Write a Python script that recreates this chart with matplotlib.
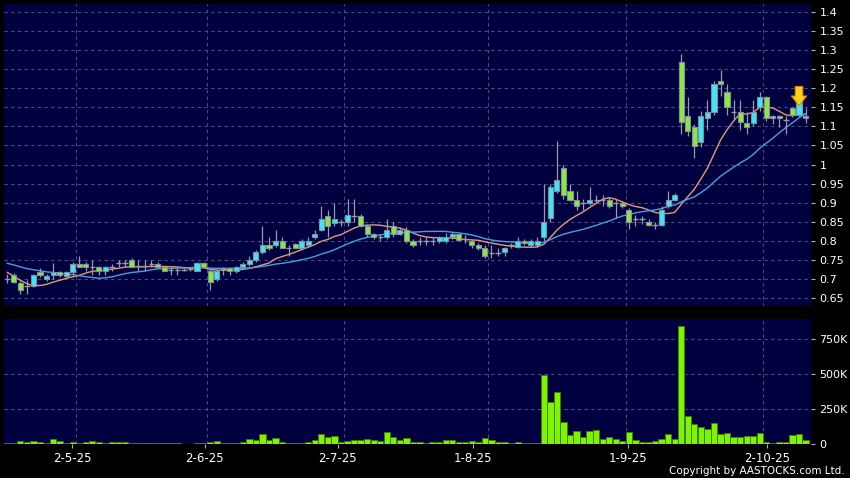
import numpy as np
import pandas as pd
import matplotlib
matplotlib.use('Agg')
import matplotlib.pyplot as plt

# daily candles (oldest first); cyan = up, green = down
opens = [0.70, 0.709, 0.690, 0.682, 0.682, 0.719, 0.699, 0.709, 0.718, 0.708,
         0.718, 0.74, 0.74, 0.73, 0.73, 0.721, 0.73, 0.741, 0.741, 0.75,
         0.733, 0.733, 0.738, 0.739, 0.730, 0.724, 0.724, 0.724, 0.727, 0.72,
         0.741, 0.72, 0.70, 0.727, 0.728, 0.72, 0.73, 0.74, 0.75, 0.77,
         0.79, 0.79, 0.80, 0.781, 0.791, 0.781, 0.79, 0.81, 0.829, 0.866,
         0.847, 0.848, 0.848, 0.866, 0.866, 0.838, 0.818, 0.809, 0.809, 0.838,
         0.819, 0.828, 0.80, 0.80, 0.80, 0.80, 0.80, 0.80, 0.809, 0.817,
         0.806, 0.80, 0.79, 0.78, 0.768, 0.768, 0.77, 0.789, 0.783, 0.80,
         0.79, 0.79, 0.809, 0.859, 0.93, 0.99, 0.93, 0.908, 0.898, 0.90,
         0.908, 0.908, 0.908, 0.90, 0.90, 0.88, 0.858, 0.858, 0.85, 0.841,
         0.841, 0.89, 0.908, 1.269, 1.127, 1.099, 1.06, 1.121, 1.138, 1.22,
         1.189, 1.138, 1.138, 1.109, 1.109, 1.151, 1.178, 1.121, 1.127, 1.116,
         1.149, 1.13, 1.121]
highs = [0.712, 0.715, 0.695, 0.697, 0.712, 0.728, 0.712, 0.741, 0.72, 0.72,
         0.745, 0.76, 0.745, 0.75, 0.735, 0.735, 0.74, 0.75, 0.75, 0.755,
         0.75, 0.75, 0.75, 0.745, 0.735, 0.73, 0.73, 0.728, 0.73, 0.745,
         0.745, 0.725, 0.725, 0.73, 0.73, 0.735, 0.745, 0.76, 0.775, 0.84,
         0.81, 0.828, 0.81, 0.79, 0.795, 0.805, 0.81, 0.828, 0.89, 0.88,
         0.90, 0.857, 0.91, 0.91, 0.87, 0.845, 0.82, 0.818, 0.856, 0.848,
         0.835, 0.835, 0.805, 0.81, 0.81, 0.81, 0.812, 0.82, 0.822, 0.82,
         0.815, 0.805, 0.795, 0.79, 0.79, 0.78, 0.785, 0.795, 0.81, 0.805,
         0.805, 0.81, 0.95, 0.95, 1.062, 1.0, 0.95, 0.93, 0.91, 0.94,
         0.92, 0.92, 0.915, 0.91, 0.905, 0.885, 0.868, 0.865, 0.858, 0.85,
         0.89, 0.93, 0.925, 1.29, 1.178, 1.105, 1.14, 1.169, 1.22, 1.249,
         1.21, 1.169, 1.169, 1.138, 1.169, 1.191, 1.18, 1.13, 1.13, 1.127,
         1.152, 1.17, 1.149]
lows = [0.690, 0.69, 0.66, 0.66, 0.68, 0.705, 0.695, 0.70, 0.705, 0.705,
        0.71, 0.73, 0.72, 0.71, 0.71, 0.71, 0.72, 0.73, 0.73, 0.73,
        0.72, 0.72, 0.73, 0.73, 0.72, 0.71, 0.71, 0.72, 0.72, 0.72,
        0.73, 0.67, 0.695, 0.71, 0.71, 0.715, 0.725, 0.735, 0.745, 0.765,
        0.775, 0.785, 0.78, 0.76, 0.78, 0.775, 0.785, 0.805, 0.825, 0.81,
        0.84, 0.838, 0.84, 0.848, 0.835, 0.81, 0.805, 0.80, 0.805, 0.81,
        0.815, 0.795, 0.785, 0.79, 0.79, 0.79, 0.795, 0.795, 0.805, 0.80,
        0.795, 0.78, 0.775, 0.755, 0.755, 0.76, 0.76, 0.78, 0.78, 0.79,
        0.785, 0.785, 0.80, 0.85, 0.925, 0.91, 0.905, 0.88, 0.88, 0.895,
        0.90, 0.89, 0.885, 0.86, 0.885, 0.83, 0.84, 0.845, 0.84, 0.83,
        0.84, 0.885, 0.905, 1.079, 1.075, 1.018, 1.045, 1.09, 1.13, 1.18,
        1.13, 1.116, 1.09, 1.079, 1.10, 1.14, 1.115, 1.107, 1.099, 1.079,
        1.125, 1.125, 1.11]
closes = [0.70, 0.691, 0.671, 0.682, 0.709, 0.709, 0.708, 0.718, 0.709, 0.718,
          0.74, 0.73, 0.73, 0.73, 0.721, 0.73, 0.73, 0.741, 0.741, 0.73,
          0.733, 0.733, 0.738, 0.730, 0.72, 0.724, 0.724, 0.724, 0.727, 0.741,
          0.731, 0.691, 0.72, 0.727, 0.72, 0.73, 0.74, 0.75, 0.77, 0.79,
          0.78, 0.80, 0.78, 0.781, 0.781, 0.80, 0.80, 0.819, 0.857, 0.838,
          0.857, 0.848, 0.867, 0.866, 0.838, 0.818, 0.81, 0.809, 0.828, 0.818,
          0.828, 0.80, 0.79, 0.80, 0.80, 0.80, 0.809, 0.809, 0.817, 0.802,
          0.806, 0.79, 0.78, 0.76, 0.768, 0.768, 0.78, 0.789, 0.80, 0.793,
          0.80, 0.80, 0.85, 0.94, 0.96, 0.92, 0.908, 0.89, 0.898, 0.908,
          0.908, 0.908, 0.89, 0.90, 0.89, 0.85, 0.858, 0.858, 0.841, 0.841,
          0.88, 0.908, 0.92, 1.112, 1.088, 1.048, 1.127, 1.138, 1.21, 1.21,
          1.151, 1.138, 1.112, 1.099, 1.138, 1.178, 1.121, 1.127, 1.121, 1.116,
          1.13, 1.165, 1.127]
# volume in thousands of shares
volumes = [9, 9, 18, 16, 21, 16, 7, 35, 21, 5,
           12, 5, 14, 21, 12, 9, 14, 14, 14, 9,
           9, 7, 7, 9, 9, 9, 7, 2, 2, 9,
           9, 16, 21, 9, 9, 5, 16, 33, 28, 72,
           28, 40, 14, 9, 7, 7, 12, 29, 74, 48,
           55, 17, 19, 31, 29, 33, 29, 21, 88, 50,
           26, 40, 12, 17, 7, 14, 14, 31, 26, 14,
           17, 19, 14, 40, 26, 12, 14, 7, 14, 5,
           7, 7, 493, 302, 369, 160, 67, 93, 50, 93,
           100, 38, 52, 38, 24, 86, 29, 14, 17, 24,
           38, 71, 36, 843, 202, 143, 119, 107, 150, 74,
           76, 48, 48, 55, 57, 76, 14, 5, 14, 17,
           62, 71, 29]
# closes before the first visible day, only used to start the moving averages
pre_closes = [0.78, 0.77, 0.775, 0.77, 0.76, 0.765, 0.75, 0.76, 0.76, 0.76,
              0.79, 0.78, 0.77, 0.765, 0.70, 0.68, 0.66, 0.66, 0.667]

month_grid = [10.5, 30.5, 51.5, 73.5, 94.5, 115.5]
tick_pos = [9.9, 30.2, 50.5, 71.2, 94.9, 116.1]
tick_labels = ['2-5-25', '2-6-25', '2-7-25', '1-8-25', '1-9-25', '2-10-25']
price_ticks = [0.65, 0.7, 0.75, 0.8, 0.85, 0.9, 0.95, 1.0, 1.05, 1.1, 1.15, 1.2, 1.25, 1.3, 1.35, 1.4]
vol_ticks = [0, 250, 500, 750]
vol_labels = ['0', '250K', '500K', '750K']

UP = '#3ee6f6'
DOWN = '#8ee83c'
EDGE = '#7f8fa0'
WICK = '#9a9aa6'
PANEL = '#000040'
GRID = '#4c4c7c'

o = np.array(opens)
h = np.array(highs)
l = np.array(lows)
c = np.array(closes)
x = np.arange(len(c))

allc = pd.Series(pre_closes + closes)
ma10 = allc.rolling(10).mean().to_numpy()[len(pre_closes):]
ma20 = allc.rolling(20).mean().to_numpy()[len(pre_closes):]

fig = plt.figure(figsize=(8.5, 4.78), dpi=100, facecolor='black')
ax = fig.add_axes([4 / 850, 172 / 478, 807 / 850, 302 / 478])
axv = fig.add_axes([4 / 850, 34 / 478, 807 / 850, 125 / 478], sharex=ax)

for a in (ax, axv):
    a.set_facecolor(PANEL)
    for s in a.spines.values():
        s.set_visible(False)
    a.yaxis.tick_right()
    a.tick_params(axis='y', colors='white', labelsize=8, length=3, pad=3, direction='out')
    a.tick_params(axis='y', which='major', color='#b0b0b0')
    a.set_xticks(month_grid, minor=True)
    a.tick_params(axis='x', which='minor', length=0)
    a.grid(which='minor', axis='x', color=GRID, linestyle=(0, (3, 3)), linewidth=0.8)
    a.grid(which='major', axis='y', color=GRID, linestyle=(0, (3, 3)), linewidth=0.8)
    a.set_axisbelow(True)

# price panel
ax.plot(x, ma10, color='#e59a72', lw=1.0, zorder=2)
ax.plot(x, ma20, color='#4a9ee0', lw=1.0, zorder=2)
ax.vlines(x, l, h, color=WICK, lw=0.9, zorder=3)
up = c > o
down = c < o
flat = c == o
ax.bar(x[up], (c - o)[up], bottom=o[up], width=0.78, color=UP, edgecolor=EDGE, linewidth=0.8, zorder=4)
ax.bar(x[down], (o - c)[down], bottom=c[down], width=0.78, color=DOWN, edgecolor=EDGE, linewidth=0.8, zorder=4)
ax.hlines(c[flat], x[flat] - 0.4, x[flat] + 0.4, color=WICK, lw=1.0, zorder=4)

ax.annotate('', xy=(121, 1.147), xytext=(121, 1.212),
            arrowprops=dict(arrowstyle='simple,head_width=1.1,head_length=0.7,tail_width=0.55',
                            fc='#ffd21e', ec='#d08a00', lw=0.8), zorder=6)

ax.set_ylim(0.629, 1.421)
ax.set_yticks(price_ticks)
ax.set_yticklabels(['%g' % t for t in price_ticks])
ax.tick_params(axis='x', which='major', bottom=False, labelbottom=False)
ax.set_xlim(-0.5, 122.83)

# volume panel
axv.bar(x, volumes, width=0.96, color='#7ef500', edgecolor='#3f7d00', linewidth=0.7, zorder=3)
axv.set_ylim(0, 893)
axv.set_yticks(vol_ticks)
axv.set_yticklabels(vol_labels)
axv.set_xticks(tick_pos)
axv.set_xticklabels(tick_labels)
axv.tick_params(axis='x', which='major', colors='white', labelsize=8.5, length=3, pad=3, direction='out')
axv.tick_params(axis='x', which='major', color='#b0b0b0')

fig.text(845 / 850, 1 - 471 / 478, 'Copyright by AASTOCKS.com Ltd.', color='white',
         fontsize=7.5, ha='right', va='center')

fig.savefig('out.png', dpi=100, facecolor='black')
